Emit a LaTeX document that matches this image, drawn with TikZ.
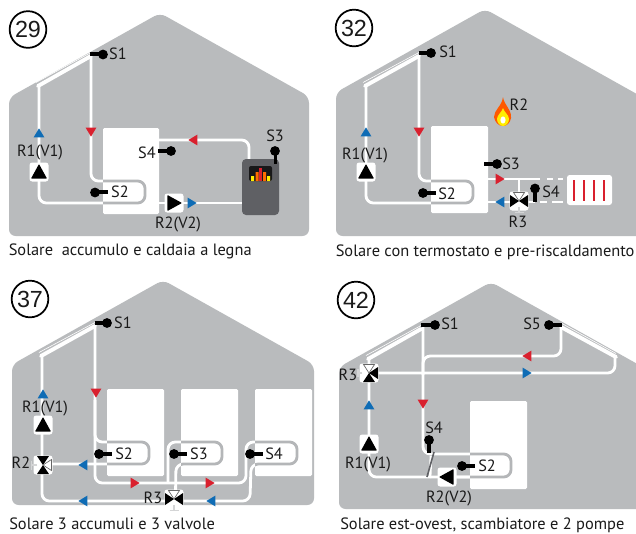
\documentclass[tikz,border=0pt]{standalone}
\usepackage{fontspec}
\setmainfont{PT Sans}
\newfontfamily\numfont{Liberation Sans}
\definecolor{housegrey}{HTML}{B9BBBD}
\definecolor{coilgrey}{HTML}{B4B6B8}
\definecolor{stubgrey}{HTML}{D4D5D6}
\definecolor{arrred}{HTML}{D9202E}
\definecolor{arrblue}{HTML}{0F6CB5}
\definecolor{boilergrey}{HTML}{5F6064}
\definecolor{txt}{HTML}{1A1A1A}
\newcommand\myhouse[5]{\fill[housegrey,rounded corners=5pt] (#1,#2)--(#3,#2+0.56*#1-0.56*#3)--(#3,#5)--(#4,#5)--(#4,#2+0.56*#4-0.56*#1)--cycle;}
\newcommand\mysolar[4]{\draw[white,line width=0.45pt] (#1,#2-2.5)--(#3,#4-2.5);\draw[white,line width=2.9pt,line cap=round] (#1+2,#2+1)--(#3,#4+1);}
\tikzset{
 x=0.75pt,y=-0.75pt,
 pipe/.style={draw=white,line width=2.1pt,rounded corners=5.5pt},
 coil/.style={draw=coilgrey,line width=2.1pt,rounded corners=5.5pt},
 stub/.style={draw=black,line width=2.5pt},
 tank/.style={fill=white,rounded corners=1pt},
 lbl/.style={text=txt,font=\fontsize{12.2}{13}\selectfont,inner sep=0pt},
 capt/.style={text=txt,font=\fontsize{12.3}{13}\selectfont,inner sep=0pt,anchor=base west},
 num/.style={circle,draw=black,line width=1.3pt,fill=white,minimum size=27.5pt,inner sep=0pt,text=txt,font=\numfont\fontsize{17.5}{19}\selectfont},
 ball/.pic={\fill[black] (0,0) circle (4.9);},
 tri/.pic={\fill[pic actions] (-5.4,4.4)--(5.4,4.4)--(0,-4.6)--cycle;},
 pump/.pic={\fill[white,rounded corners=2pt] (-9.5,-9.5) rectangle (9.5,9.5);
   \fill[black,rounded corners=0.5pt] (-8,6.6)--(8,6.6)--(0,-8)--cycle;},
 valve/.pic={\fill[white,rounded corners=2pt] (-9.5,-9.5) rectangle (9.5,9.5);
   \draw[stubgrey,line width=0.9pt] (0,6)--(0,11.5) (-4.5,11.5)--(4.5,11.5);
   \fill[black] (0,0)--(-9,-6)--(-9,6)--cycle (0,0)--(9,-6)--(9,6)--cycle;
   \draw[fill=white,draw=black!60,line width=0.5pt] (0,0)--(-5.5,-8.5)--(5.5,-8.5)--cycle;},
 valvetwo/.pic={\fill[white,rounded corners=2pt] (-9.5,-9.5) rectangle (9.5,9.5);
   \draw[stubgrey,line width=0.9pt] (-7,0)--(-11,0) (-11,-4)--(-11,4);
   \fill[black] (0,0)--(9,-6)--(9,6)--cycle (0,0)--(-6,9)--(6,9)--cycle;
   \draw[fill=white,draw=black!60,line width=0.5pt] (0,0)--(-5.5,-8.5)--(5.5,-8.5)--cycle;},
}
\begin{document}
\begin{tikzpicture}
\clip (0,0) rectangle (636,533);
\fill[white] (0,0) rectangle (636,533);
%% ---------- 29
\myhouse{160}{13}{9}{309}{236}
\mysolar{36}{85}{91}{55}
\def\coilA{(91,55)--(91,181)--(145,181)--(145,203)--(39,203)--(39,84)}
\draw[pipe] \coilA;
\draw[pipe] (159,203)--(242,203);
\draw[pipe] (159,140)--(249,140)--(249,160);
\fill[tank] (103,128) rectangle (159,214);
\begin{scope}\clip (103,128) rectangle (159,214);\draw[coil] \coilA;\end{scope}
\draw[stub] (90,54)--(103,54);\pic at (103,54.5) {ball};
\node[lbl] (a1) at (118,54) {S1};
\draw[stub] (95,192)--(108,192);\pic at (95,192.5) {ball};
\node[lbl] (a2) at (120,192) {S2};
\draw[stub] (158,151)--(171,151);\pic at (171,151) {ball};
\node[lbl] (a4) at (147,153) {S4};
\pic at (39,172) {pump};
\node[lbl] (ar1) at (40,152) {R1(V1)};
\pic[rotate=-90] at (174,203) {pump};
\node[lbl] (ar2) at (178,224) {R2(V2)};
\pic[fill=arrblue] at (39,133) {tri};
\pic[fill=arrred,rotate=180] at (91,132) {tri};
\pic[fill=arrred,rotate=90] at (193,140) {tri};
\pic[fill=arrblue,rotate=-90] at (192,203) {tri};
\fill[boilergrey,rounded corners=3pt] (242,159) rectangle (279,215);
\fill[black!75!boilergrey,rounded corners=1.5pt] (249,166) rectangle (272,181);
\fill[yellow!95!orange] (251,176) rectangle (254,181) (267,176) rectangle (270,181);
\fill[orange!85!red] (255.5,172) rectangle (258.5,181) (263,172) rectangle (266,181);
\fill[arrred] (259,168) rectangle (262,181);
\draw[stub] (275.5,151)--(275.5,164);\pic at (275,151) {ball};
\node[lbl] (a3) at (275,136) {S3};
\node[num] (n29) at (28,29.5) {29};
\node[capt] (c29) at (8.5,255) {Solare\ \ accumulo e caldaia a legna};
%% ---------- 32
\myhouse{485}{9}{336}{645}{236}
\mysolar{363}{85}{419}{55}
\def\coilB{(419,55)--(419,181)--(473,181)--(473,203)--(366,203)--(366,84)}
\draw[pipe] \coilB;
\draw[pipe] (488,179)--(540,179) (488,202)--(535,202);
\draw[pipe] (519,179)--(519,200);
\draw[white,line width=2.1pt] (547,179)--(553,179) (558,179)--(563,179) (540,202)--(547,202) (552,202)--(563,202);
\fill[tank] (431,126) rectangle (488,213);
\begin{scope}\clip (431,126) rectangle (488,213);\draw[coil] \coilB;\end{scope}
\draw[stub] (419,53)--(431,53);\pic at (431,53) {ball};
\node[lbl] (b1) at (448,52) {S1};
\draw[stub] (423,193)--(436,193);\pic at (423,193) {ball};
\node[lbl] (b2) at (447,194) {S2};
\draw[stub] (484,164)--(497,164);\pic at (497,164) {ball};
\node[lbl] (b3) at (511,164) {S3};
\pic at (366,172) {pump};
\node[lbl] (br1) at (365,155) {R1(V1)};
\pic[fill=arrblue] at (366,132) {tri};
\pic[fill=arrred,rotate=180] at (419,132) {tri};
\pic[fill=arrred,rotate=-90] at (500,179) {tri};
\pic[fill=arrblue,rotate=90] at (500,202) {tri};
\pic at (519,201) {valve};
\node[lbl] (br3) at (518,222) {R3};
\draw[stub] (535,189)--(535,202);\pic at (535,188.5) {ball};
\node[lbl] (b4) at (551,192) {S4};
\fill[white,rounded corners=2pt] (567,175) rectangle (612,205);
\draw[arrred,line width=1.5pt] (574,180)--(574,201) (584,180)--(584,201) (594,180)--(594,201) (604,180)--(604,201);
\fill[orange!70!red] (503,97) .. controls (504,105) and (512,110) .. (511,118) .. controls (510,123) and (507,126) .. (503,126) .. controls (498,126) and (495,122) .. (494,117) .. controls (494,110) and (502,106) .. (503,97) -- cycle;
\fill[yellow!95!orange] (503,108) .. controls (504,112) and (509,115) .. (509,119) .. controls (509,123) and (506,126) .. (503,126) .. controls (500,126) and (497,123) .. (497,119) .. controls (497,115) and (502,112) .. (503,108) -- cycle;
\fill[white] (503,120) ellipse (2.6 and 3.6);
\node[lbl] (br2) at (519,105) {R2};
\node[num] (n32) at (354,28) {32};
\node[capt] (c32) at (335.5,256) {Solare con termostato e pre-riscaldamento};
%% ---------- 37
\myhouse{163}{280}{12}{314}{505}
\mysolar{39}{355}{95}{325}
\draw[pipe] (95,325)--(95,483)--(246,483)--(246,442)--(297,442)--(297,464)--(251,464)--(250,501)--(42,501)--(42,355);
\def\coilC{(95,400)--(95,442)--(149,442)--(149,464)--(42,464)}
\draw[pipe] \coilC;
\def\coilD{(168,483)--(168,442)--(222,442)--(222,464)--(176,464)--(175.5,495)}
\draw[pipe] \coilD;
\def\coilE{(246,483)--(246,442)--(297,442)--(297,464)--(251,464)--(250,501)}
\fill[tank] (107,389) rectangle (164,476);
\fill[tank] (181,389) rectangle (238,476);
\fill[tank] (255,389) rectangle (312,476);
\begin{scope}\clip (107,389) rectangle (164,476);\draw[coil] \coilC;\end{scope}
\begin{scope}\clip (181,389) rectangle (238,476);\draw[coil] \coilD;\end{scope}
\begin{scope}\clip (255,389) rectangle (312,476);\draw[coil] \coilE;\end{scope}
\draw[stub] (95,323)--(107,323);\pic at (107,323) {ball};
\node[lbl] (c1) at (123,323) {S1};
\draw[stub] (99,454)--(112,454);\pic at (99,454) {ball};
\node[lbl] (c2) at (124,454) {S2};
\draw[stub] (174,454)--(187,454);\pic at (174,454) {ball};
\node[lbl] (c3) at (199,454) {S3};
\draw[stub] (250,454)--(263,454);\pic at (250,454) {ball};
\node[lbl] (c4) at (274,454) {S4};
\pic at (43,425) {pump};
\node[lbl] (cr1) at (45,408) {R1(V1)};
\pic[rotate=-90] at (43,465) {valve};
\node[lbl] (cr2) at (21,463) {R2};
\pic at (174,499) {valve};
\node[lbl] (cr3) at (153,498) {R3};
\pic[fill=arrblue] at (43,394) {tri};
\pic[fill=arrred,rotate=180] at (96,393) {tri};
\pic[fill=arrblue,rotate=90] at (83,465) {tri};
\pic[fill=arrred,rotate=-90] at (135,483) {tri};
\pic[fill=arrred,rotate=-90] at (210,483) {tri};
\pic[fill=arrblue,rotate=90] at (83,501) {tri};
\pic[fill=arrblue,rotate=90] at (211,501) {tri};
\node[num] (n37) at (30,299) {37};
\node[capt] (c37) at (9,529) {Solare 3 accumuli e 3 valvole};
%% ---------- 42
\myhouse{491}{282}{339}{645}{509}
\mysolar{366}{358}{421}{328}
\draw[white,line width=0.45pt] (561,323)--(616,353.5);
\draw[white,line width=2.9pt,line cap=round] (561,327)--(616,357);
\draw[pipe] (369,358)--(369,477)--(470,477);
\def\coilF{(423,326)--(423,454)--(511,454)--(511,477)--(447,477)}
\draw[pipe] \coilF;
\draw[pipe] (561,326)--(561,356)--(423,356)--(423,375);
\draw[pipe] (615,357)--(615,373)--(369,373);
\fill[tank] (470,401) rectangle (527,489);
\begin{scope}\clip (470,401) rectangle (527,489);\draw[coil] \coilF;\end{scope}
\draw[white,line width=2pt] (431,456)--(430,478);
\draw[draw=boilergrey,line width=1.2pt] (434,452)--(427,477);
\pic at (369,373) {valvetwo};
\node[lbl] (dr3) at (348,375) {R3};
\pic at (369,444) {pump};
\node[lbl] (dr1) at (368,464) {R1(V1)};
\pic[rotate=90] at (447,477) {pump};
\node[lbl] (dr2) at (449,498) {R2(V2)};
\draw[stub] (421,325)--(435,325);\pic at (435,325) {ball};
\node[lbl] (d1) at (450,324) {S1};
\draw[stub] (549,325)--(562,325);\pic at (549,325) {ball};
\node[lbl] (d5) at (532,324) {S5};
\draw[stub] (429,440)--(429,453);\pic at (429,440) {ball};
\node[lbl] (d4) at (434,428) {S4};
\draw[stub] (462,466)--(475,466);\pic at (462,466) {ball};
\node[lbl] (d2) at (487,466) {S2};
\pic[fill=arrblue] at (369,405) {tri};
\pic[fill=arrred,rotate=180] at (423,404) {tri};
\pic[fill=arrred,rotate=90] at (527,356) {tri};
\pic[fill=arrblue,rotate=-90] at (527,373) {tri};
\node[num] (n42) at (356,300) {42};
\node[capt] (c42) at (340,529) {Solare est-ovest, scambiatore e 2 pompe};
\end{tikzpicture}
\end{document}
